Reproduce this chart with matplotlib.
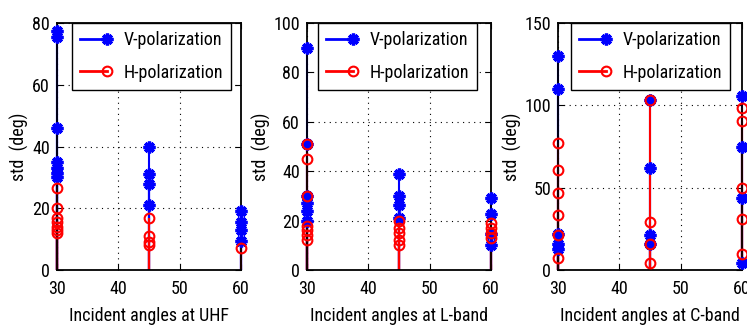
import matplotlib
matplotlib.use("Agg")
import matplotlib.pyplot as plt
from matplotlib import font_manager
from matplotlib.lines import Line2D
from matplotlib.legend_handler import HandlerLine2D
from matplotlib.ticker import MultipleLocator

available = {f.name for f in font_manager.fontManager.ttflist}
candidates = ['Liberation Sans Narrow', 'Roboto Condensed', 'DejaVu Sans Condensed',
              'Open Sans Condensed', 'Noto Sans Condensed']
chosen = [c for c in candidates if c in available]
if chosen:
    plt.rcParams['font.family'] = [chosen[0], 'DejaVu Sans']
    FS = 13
else:
    plt.rcParams['font.family'] = ['DejaVu Sans']
    FS = 11

angles = [30, 45, 60]

# std (deg) values per incident angle (30, 45, 60)
uhf_v = [[77.5, 75.5, 46, 35, 33, 31.5, 30], [40, 31, 28, 21], [19, 15.5, 13, 9.5]]
uhf_h = [[26.5, 20, 17, 15.5, 14, 13, 12], [17, 11, 9, 8], [7]]
lband_v = [[90, 51, 30, 27, 24, 20], [39, 30, 26.5, 21], [29, 22.5, 14.5, 10]]
lband_h = [[51, 45, 30, 18, 16, 14, 12], [20, 17, 15, 12, 10], [19, 17, 15, 13]]
cband_v = [[130, 110, 22, 15.5, 13], [103, 62, 21, 16], [105.5, 74.5, 43.5, 4]]
cband_h = [[77, 60.5, 47, 33.5, 21, 7.5], [103, 29, 16, 4], [98.5, 90.5, 49.5, 31, 10]]

band_names = ['UHF', 'L-band', 'C-band']
ymax = [80, 100, 150]
ystep = [20, 20, 50]
series_v = [uhf_v, lband_v, cband_v]
series_h = [uhf_h, lband_h, cband_h]

BLUE = (0, 0, 1)
RED = (1, 0, 0)
STAR = (8, 2, 0)


class EndMarker(HandlerLine2D):
    def create_artists(self, *args, **kw):
        arts = super().create_artists(*args, **kw)
        for a in arts:
            if a.get_markevery() is not None:
                a.set_markevery([2])
        return arts


fig = plt.figure(figsize=(7.47, 3.29), dpi=100)
lefts = [0.0763, 0.411, 0.747]
legend_x = [0.514, 0.491, 0.503]

for i in range(3):
    ax = fig.add_axes([lefts[i], 0.1793, 0.2463, 0.7508])
    for vals, color, mk, z in ((series_v[i], BLUE, STAR, 2), (series_h[i], RED, 'o', 2.1)):
        xs = []
        ys = []
        for a, vs in zip(angles, vals):
            xs += [a] * len(vs)
            ys += vs
        ax.vlines(xs, 0, ys, colors=[color], linewidth=1.5, zorder=z, clip_on=False)
        if mk == 'o':
            ax.plot(xs, ys, linestyle='none', marker='o', markersize=7, markerfacecolor='none',
                    markeredgecolor=color, markeredgewidth=1.5, zorder=z + 2, clip_on=False)
        else:
            ax.plot(xs, ys, linestyle='none', marker=STAR, markersize=8.5, markeredgecolor=color,
                    markeredgewidth=2.4, zorder=z + 2, clip_on=False)

    ax.set_xlim(30, 60)
    ax.set_ylim(0, ymax[i])
    ax.xaxis.set_major_locator(MultipleLocator(10))
    ax.yaxis.set_major_locator(MultipleLocator(ystep[i]))
    ax.grid(True, linestyle=(0, (1, 4)), color='black', linewidth=0.8)
    ax.set_axisbelow(True)
    ax.tick_params(direction='in', length=4, width=0.8, top=True, right=True,
                   labelsize=FS, pad=7)
    ax.tick_params(axis='y', pad=5)
    for s in ax.spines.values():
        s.set_linewidth(1.3)
        s.set_zorder(2.6)
    ax.set_xlabel('Incident angles at ' + band_names[i], fontsize=FS, labelpad=7)
    ax.set_ylabel('std  (deg)', fontsize=FS, labelpad=2)

    hv = Line2D([], [], color=BLUE, linewidth=2, marker=STAR, markersize=8.5,
                markeredgewidth=2.4, label='V-polarization')
    hh = Line2D([], [], color=RED, linewidth=2, marker='o', markersize=7,
                markerfacecolor='none', markeredgewidth=1.5, label='H-polarization')
    leg = ax.legend(handles=[hv, hh], loc='upper center', bbox_to_anchor=(legend_x[i], 1.0),
                    borderaxespad=0, fontsize=FS, handlelength=1.5, handletextpad=0.9,
                    labelspacing=0.8, borderpad=0.45, fancybox=False, framealpha=1,
                    edgecolor='black', numpoints=1,
                    handler_map={Line2D: EndMarker()})
    leg.get_frame().set_linewidth(1.0)
    leg.set_zorder(10)

fig.savefig('out.png', dpi=100)
